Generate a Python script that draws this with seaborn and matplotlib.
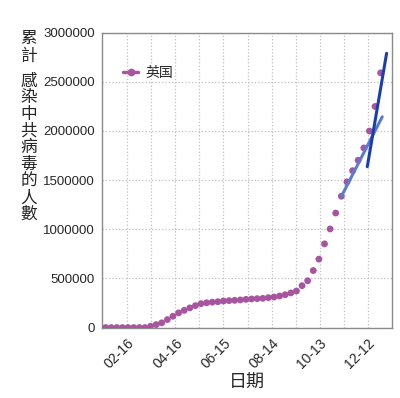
import matplotlib
matplotlib.use("Agg")
import matplotlib.pyplot as plt
from matplotlib.lines import Line2D
from matplotlib.ticker import MultipleLocator, FuncFormatter
import seaborn as sns
import pandas as pd

# weekly cumulative cases, UK 2020
dates = pd.date_range("2020-01-20", periods=50, freq="7D")
cases = [0, 0, 0, 0, 0, 0, 0, 0,
         13000, 30000, 48000, 81000, 115000, 149000, 175000, 200000, 223000, 243000,
         252000, 258000, 263000, 270000, 274000, 277000, 281000, 287000, 291000, 294000,
         297000, 304000, 311000, 321000, 334000, 352000, 372000, 426000, 476000, 580000,
         696000, 851000, 1003000, 1165000, 1336000, 1482000, 1596000, 1702000, 1827000, 1999000,
         2249000, 2591000]

# two trend lines at the end
trend1_dates = pd.to_datetime(["2020-11-09 08:00", "2020-12-30 00:00"])
trend1_vals = [1338000, 2144000]
trend2_dates = pd.to_datetime(["2020-12-11 08:00", "2021-01-04 10:00"])
trend2_vals = [1636000, 2789000]

series_label = "英国"
xlabel = "日期"
ylabel_parts = ["累計", "感染中共病毒的人數"]

point_color = "#a8559f"
light_blue = "#5b7bd3"
dark_blue = "#1c3db0"

sns.set_style("white")
plt.rcParams["font.family"] = ["Liberation Sans", "Noto Sans CJK TC", "DejaVu Sans"]

df = pd.DataFrame({"date": dates, "cases": cases})

fig = plt.figure(figsize=(4.0, 3.98), dpi=100)
ax = fig.add_axes([0.255, 0.177, 0.724, 0.741])

sns.scatterplot(data=df, x="date", y="cases", ax=ax, color=point_color,
                s=24, edgecolor="none", zorder=3)
sns.lineplot(x=trend1_dates, y=trend1_vals, ax=ax, color=light_blue, lw=2.2, zorder=4)
sns.lineplot(x=trend2_dates, y=trend2_vals, ax=ax, color=dark_blue, lw=2.2, zorder=5)

ax.set_xlim(pd.Timestamp("2020-01-15 12:00"), pd.Timestamp("2021-01-10 16:00"))
ax.set_ylim(0, 3000000)

ticks = pd.date_range("2020-02-16", periods=11, freq="30D")
ax.set_xticks(ticks)
ax.set_xticklabels([t.strftime("%m-%d") if i % 2 == 0 else "" for i, t in enumerate(ticks)],
                   rotation=45, ha="right", rotation_mode="anchor", fontsize=10)
ax.yaxis.set_major_locator(MultipleLocator(500000))
ax.yaxis.set_minor_locator(MultipleLocator(100000))
ax.yaxis.set_major_formatter(FuncFormatter(lambda v, p: f"{int(v)}"))
ax.tick_params(axis="y", labelsize=9.5, direction="in", length=4, color="#888888", pad=5)
ax.tick_params(axis="y", which="minor", direction="in", length=2, color="#aaaaaa")
ax.tick_params(axis="x", direction="in", length=4, color="#888888", pad=6)

ax.grid(True, which="major", linestyle=":", color="#c0c0c0", lw=0.9)
for sp in ax.spines.values():
    sp.set_color("#8a8a8a")
    sp.set_linewidth(1.0)

ax.set_xlabel(xlabel, fontsize=13, labelpad=3)
ax.set_ylabel("")

handle = Line2D([], [], color=point_color, marker="o", markersize=4.5, lw=2.5)
ax.legend([handle], [series_label], loc="upper left", bbox_to_anchor=(0.03, 0.93),
          frameon=False, fontsize=10, handlelength=1.1, handletextpad=0.5)

# vertical y label, one character per line
y = 1 - 39 / 398
for part in ylabel_parts:
    for ch in part:
        fig.text(29 / 400, y, ch, fontsize=12, fontweight="medium", ha="center", va="center")
        y -= 16.7 / 398
    y -= 8.5 / 398

fig.savefig("out.png", dpi=100)
